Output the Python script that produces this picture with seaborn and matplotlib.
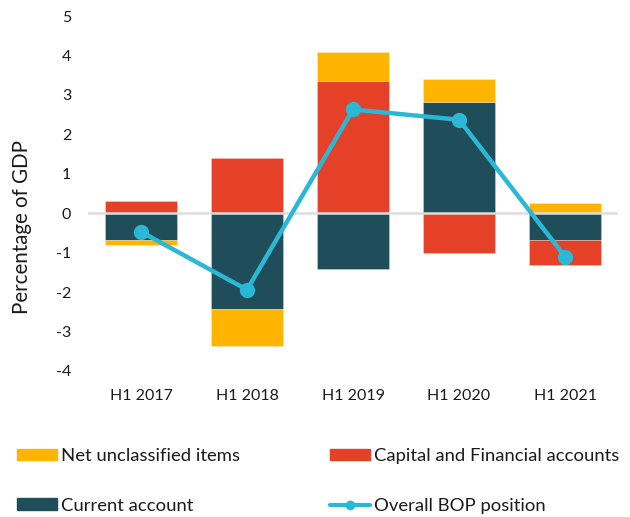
import numpy as np
import matplotlib
matplotlib.use("Agg")
import matplotlib.pyplot as plt
import seaborn as sns
from matplotlib.patches import Patch
from matplotlib.lines import Line2D

categories = ["H1 2017", "H1 2018", "H1 2019", "H1 2020", "H1 2021"]
current_account = [-0.67, -2.42, -1.42, 2.82, -0.68]
capital_financial = [0.30, 1.41, 3.34, -1.00, -0.63]
net_unclassified = [-0.13, -0.95, 0.74, 0.58, 0.25]
overall_bop = [-0.47, -1.94, 2.63, 2.37, -1.10]
yticks = [-4, -3, -2, -1, 0, 1, 2, 3, 4, 5]

sns.set_theme(style="white")
plt.rcParams["font.family"] = ["Lato", "DejaVu Sans"]

C_YEL = "#FFB400"
C_RED = "#E54028"
C_DARK = "#1F4E5A"
C_LINE = "#2BB8D6"
TXT = "#1a1a1a"

fig = plt.figure(figsize=(6.30, 5.17), dpi=100)
ax = fig.add_axes([88 / 630, 1 - 371 / 517, 530 / 630, 355 / 517])

x = np.arange(len(categories))
width = 0.67
pos_base = np.zeros(len(x))
neg_base = np.zeros(len(x))
for vals, col in [(current_account, C_DARK), (capital_financial, C_RED), (net_unclassified, C_YEL)]:
    v = np.array(vals)
    bottoms = np.where(v >= 0, pos_base, neg_base)
    ax.bar(x, v, width=width, bottom=bottoms, color=col,
           edgecolor=(1, 1, 1, 0.3), linewidth=0.6, zorder=2)
    pos_base = pos_base + np.where(v >= 0, v, 0)
    neg_base = neg_base + np.where(v < 0, v, 0)

ax.axhline(0, color="#DDDDDD", lw=1.8, zorder=3)
sns.lineplot(x=x, y=overall_bop, ax=ax, color=C_LINE, lw=3.2, marker="o",
             markersize=11, markeredgewidth=0, zorder=4)

ax.set_xlim(-0.5, 4.5)
ax.set_ylim(-4, 5)
ax.set_yticks(yticks)
ax.set_yticklabels([str(t) for t in yticks])
ax.set_xticks(x)
ax.set_xticklabels(categories)
ax.tick_params(axis="both", length=0, labelsize=11.5, colors=TXT)
ax.tick_params(axis="y", pad=12)
ax.tick_params(axis="x", pad=13)
for s in ax.spines.values():
    s.set_visible(False)
ax.set_ylabel("Percentage of GDP", fontsize=14.8, color=TXT)
ax.yaxis.set_label_coords(-0.106, 0.407)

col1 = [
    Patch(color=C_YEL, label="Net unclassified items"),
    Patch(color=C_DARK, label="Current account"),
]
col2 = [
    Patch(color=C_RED, label="Capital and Financial accounts"),
    Line2D([0], [0], color=C_LINE, lw=3, marker="o", markersize=6, label="Overall BOP position"),
]
common = dict(loc="upper left", frameon=False, fontsize=13.3, labelspacing=1.83,
              handlelength=2.16, handleheight=0.6, handletextpad=0.22,
              borderpad=0, borderaxespad=0, labelcolor=TXT)
leg1 = fig.legend(handles=col1, bbox_to_anchor=(17 / 630, 1 - 448 / 517), **common)
leg2 = fig.legend(handles=col2, bbox_to_anchor=(330 / 630, 1 - 448 / 517), **common)

fig.savefig("out.png", dpi=100)
